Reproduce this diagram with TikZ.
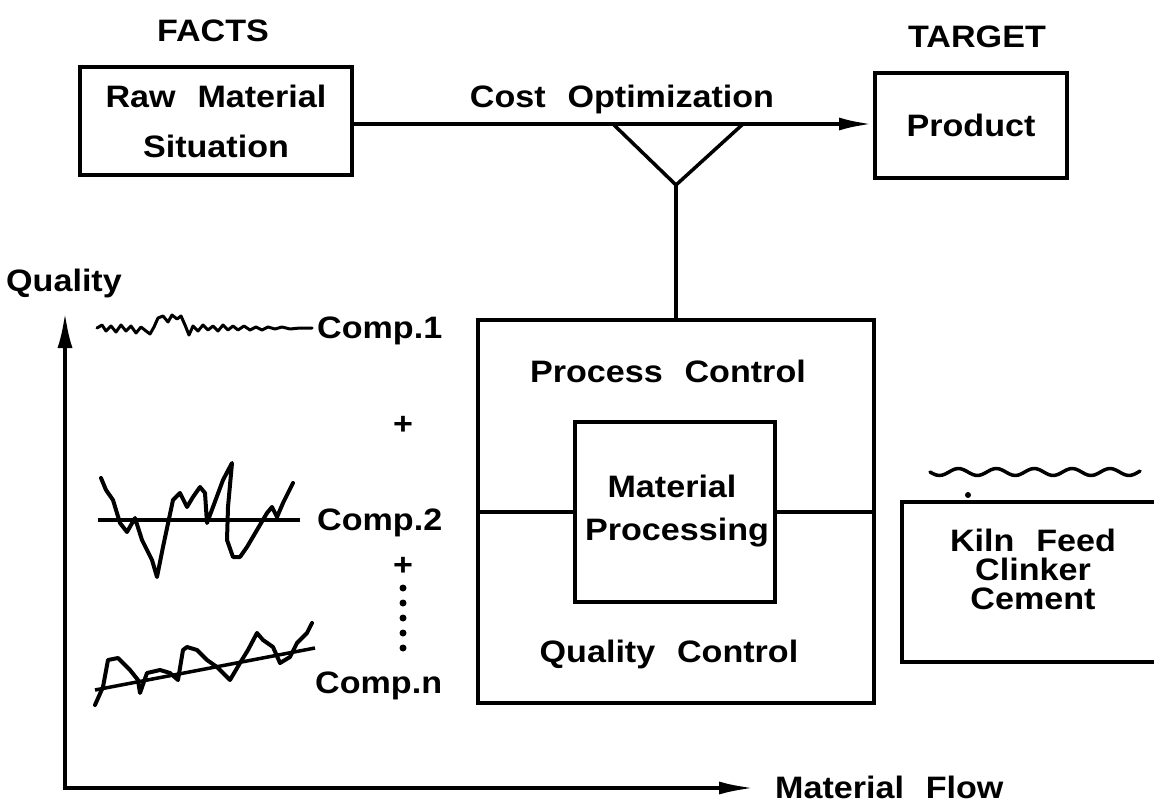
\documentclass[tikz,border=0pt]{standalone}
\usepackage{fontspec}
\setmainfont{Liberation Sans}[FakeStretch=1.1, WordSpace=2.3]
\usetikzlibrary{arrows.meta}
\begin{document}
\begin{tikzpicture}[x=1pt,y=-1pt,
  lw/.style={line width=4pt},
  boxnode/.style={draw, lw, inner sep=0pt, rectangle},
  txt/.style={font=\fontsize{31}{37}\selectfont\bfseries, inner sep=0pt},
  wave/.style={line width=3.5pt, line join=round, line cap=round}]
\useasboundingbox (0,0) rectangle (1154,805);
\fill[white] (0,0) rectangle (1154,805);

% headers
\node[txt, anchor=base] (facts) at (213,42) {FACTS};
\node[txt, anchor=base] (target) at (977,48) {TARGET};

% top boxes
\node[boxnode, minimum width=272pt, minimum height=108pt,
      font=\fontsize{31}{50}\selectfont\bfseries, align=center] (raw) at (216,121) {Raw Material\\Situation};
\node[boxnode, minimum width=192pt, minimum height=105pt,
      font=\fontsize{31}{37}\selectfont\bfseries, text depth=0pt, yshift=0pt] (product) at (971,125.5) {Product};

% cost optimization arrow and funnel
\coordinate (tl) at (613,124);
\coordinate (tr) at (743,124);
\coordinate (apex) at (676,185);
\draw[lw, -{Latex[length=34pt,width=13pt]}] (raw.east |- tl) -- (product.west |- tl);
\node[txt, anchor=base] (cost) at (622,108) {Cost Optimization};
\draw[line width=3.5pt] (tl) -- (apex) -- (tr);

% process block
\node[boxnode, minimum width=396pt, minimum height=383pt] (big) at (676,511.5) {};
\draw[lw] (apex) -- (big.north);
\node[boxnode, minimum width=200pt, minimum height=180pt] (inner) at (675,512) {};
\draw[lw] (big.west |- inner.west) -- (inner.west);
\draw[lw] (inner.east) -- (big.east |- inner.east);
\node[txt, anchor=base] (pc) at (668,382) {Process Control};
\node[txt, anchor=base] (qc) at (669,662) {Quality Control};
\node[txt, anchor=base] (mp1) at (672,497) {Material};
\node[txt, anchor=base] (mp2) at (677,540) {Processing};

% kiln box (cut by right edge)
\coordinate (k1) at (1158,502);
\coordinate (k2) at (902,502);
\coordinate (k3) at (902,662);
\coordinate (k4) at (1158,662);
\draw[lw, line join=miter] (k1) -- (k2) -- (k3) -- (k4);
\node[txt, anchor=base] (kiln1) at (1033,551) {Kiln Feed};
\node[txt, anchor=base] (kiln2) at (1033,580) {Clinker};
\node[txt, anchor=base] (kiln3) at (1033,609) {Cement};
\draw[wave] plot[domain=930:1140, samples=70, smooth] (\x, {472 + 3.5*sin((\x-930)*9.5)});
\fill (968,495) circle (3pt);

% axes
\coordinate (origin) at (65,788);
\coordinate (ytop) at (65,312);
\coordinate (xend) at (755,788);
\draw[lw, line join=miter, {Latex[length=36pt,width=15pt]}-{Latex[length=36pt,width=13pt]}] (ytop) -- (origin) -- (xend);
\node[txt, anchor=base west] (quality) at (6,291) {Quality};
\node[txt, anchor=base west] (flow) at (775,798) {Material Flow};

% component 1
\draw[wave, line width=3pt] plot coordinates {(97,328) (102,325) (106,331) (111,326) (116,332) (121,325) (126,331) (131,326) (136,333) (141,327) (146,331) (150,334) (154,327) (158,318) (163,316) (168,322) (172,315) (177,319) (181,316) (185,325) (189,335) (193,326) (198,331) (203,325) (208,330) (213,326) (218,331) (223,325) (228,330) (233,326) (238,330) (244,326) (250,330) (256,327) (262,330) (268,327) (275,329) (282,327) (290,329) (300,328) (312,328)};
\node[txt, anchor=base west] (comp1) at (317,338) {Comp.1};
\node[txt] (plus1) at (403,425) {+};

% component 2
\draw[lw] (98,520) -- (300,520);
\draw[wave, line width=4pt] plot coordinates {(101,478) (106,490) (113,500) (120,523) (127,532) (135,518) (142,540) (152,560) (157,577) (163,547) (173,500) (180,493) (187,507) (193,497) (200,487) (205,493) (207,523) (213,507) (223,480) (232,463) (228,507) (227,540) (233,557) (240,557) (247,547) (257,530) (267,513) (272,507) (277,517) (283,503) (293,483)};
\node[txt, anchor=base west] (comp2) at (317,530) {Comp.2};
\node[txt] (plus2) at (403,566) {+};
\foreach \yy in {588,603,618,633,648} \fill (403,\yy) circle (3.5pt);

% component n
\draw[line width=3.5pt] (95,690) -- (315,648);
\draw[wave, line width=4pt] plot coordinates {(95,705) (103,687) (108,660) (118,658) (130,670) (138,680) (140,693) (147,673) (160,670) (170,673) (178,680) (183,650) (187,647) (197,650) (207,660) (217,667) (230,680) (240,663) (248,650) (257,633) (263,640) (273,647) (280,663) (290,657) (297,643) (307,633) (312,623)};
\node[txt, anchor=base west] (compn) at (315,693) {Comp.n};
\end{tikzpicture}
\end{document}
